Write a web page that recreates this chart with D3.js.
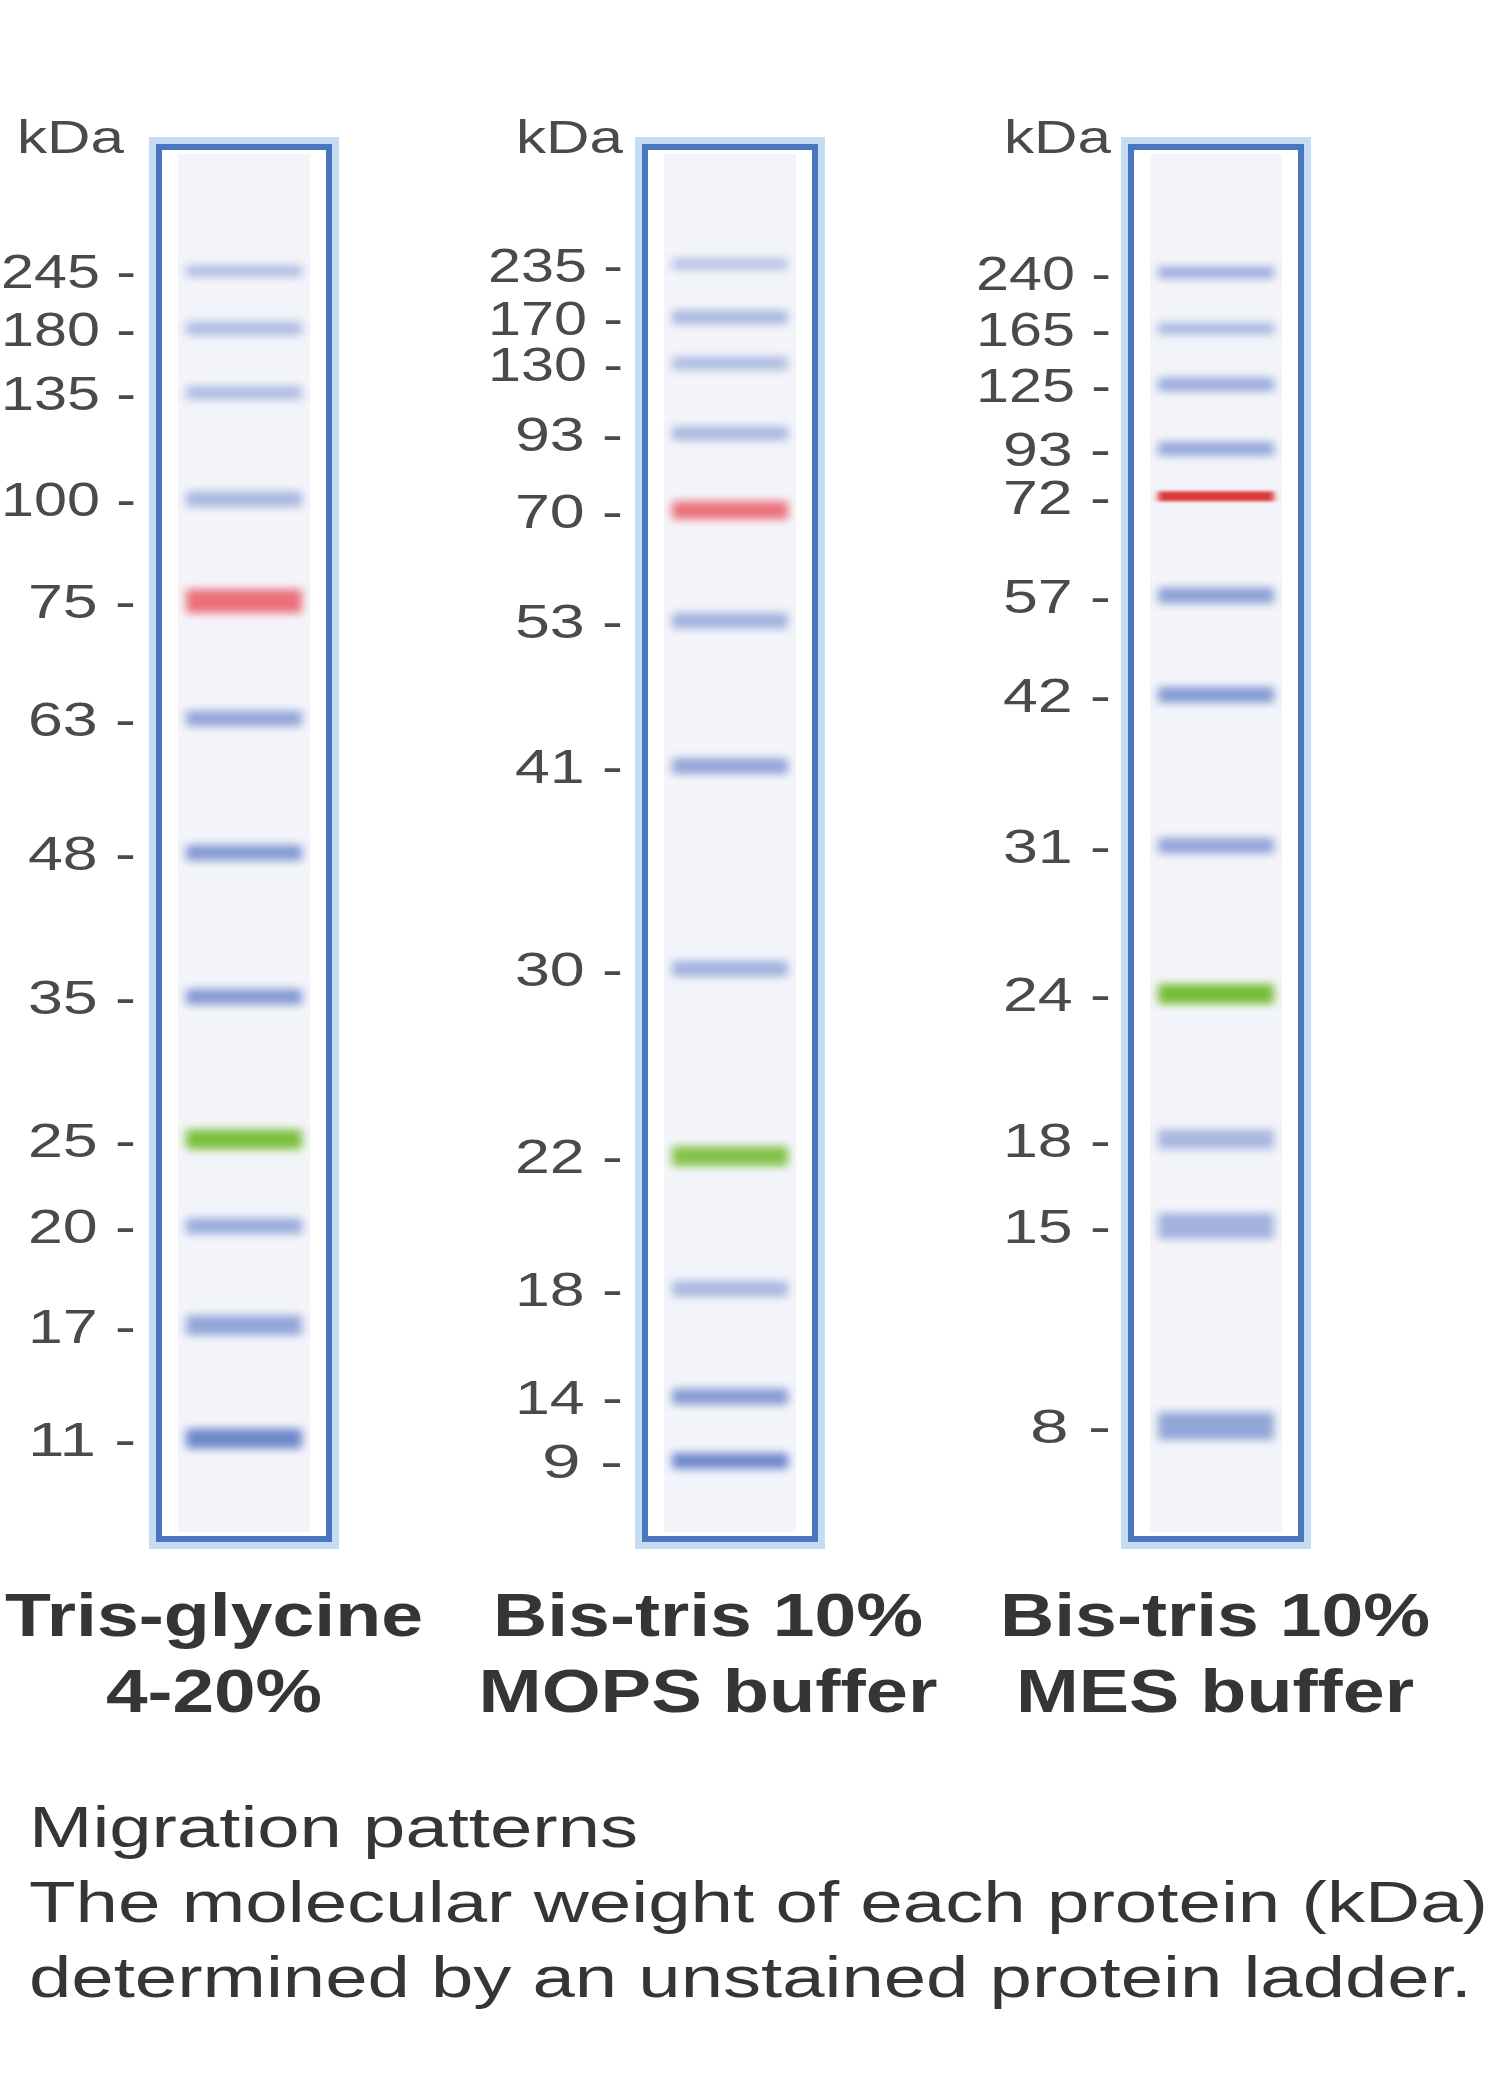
<!DOCTYPE html>
<html><head><meta charset="utf-8">
<script src="https://cdn.jsdelivr.net/npm/d3@7"></script>
<style>body{margin:0;background:#fff}</style>
</head><body>
<script>
// Data
const laneTitles = [["Tris-glycine","4-20%"],["Bis-tris 10%","MOPS buffer"],["Bis-tris 10%","MES buffer"]];
const lane1Labels = ["245","180","135","100","75","63","48","35","25","20","17","11"];
const lane1Rf = [0.091,0.132,0.178,0.254,0.327,0.411,0.507,0.610,0.712,0.774,0.845,0.926];
const lane1Colors = ["b","b","b","b","r","b","b","b","g","b","b","b"];
const lane1Strength = [0.45,0.45,0.45,0.5,0.85,0.65,0.75,0.75,0.9,0.6,0.65,0.9];
const lane1Thick = [12,14,14,16,24,16,16,16,20,16,20,20];
const lane2Labels = ["235","170","130","93","70","53","41","30","22","18","14","9"];
const lane2Rf = [0.086,0.124,0.157,0.207,0.262,0.341,0.445,0.590,0.724,0.819,0.896,0.942];
const lane2Colors = ["b","b","b","b","r","b","b","b","g","b","b","b"];
const lane2Strength = [0.4,0.5,0.45,0.5,0.85,0.55,0.65,0.55,0.85,0.5,0.75,0.9];
const lane2Thick = [12,14,14,14,18,16,16,16,20,16,16,16];
const lane3Labels = ["240","165","125","93","72","57","42","31","24","18","15","8"];
const lane3Rf = [0.092,0.132,0.172,0.218,0.252,0.323,0.394,0.502,0.608,0.712,0.774,0.917];
const lane3Colors = ["b","b","b","b","R","b","b","b","g","b","b","b"];
const lane3Strength = [0.6,0.5,0.6,0.65,0.95,0.7,0.75,0.65,0.95,0.5,0.55,0.65];
const lane3Thick = [12,12,14,14,10,16,16,16,20,20,26,28];
const footer = ["Migration patterns","The molecular weight of each protein (kDa)","determined by an unstained protein ladder."];

const lanes = [
 {labels:lane1Labels, rf:lane1Rf, col:lane1Colors, s:lane1Strength, t:lane1Thick},
 {labels:lane2Labels, rf:lane2Rf, col:lane2Colors, s:lane2Strength, t:lane2Thick},
 {labels:lane3Labels, rf:lane3Rf, col:lane3Colors, s:lane3Strength, t:lane3Thick}
];

const W=1506,H=2087;
const svg=d3.select("body").append("svg").attr("width",W).attr("height",H);
const defs=svg.append("defs");
defs.append("filter").attr("id","blur").attr("x","-20%").attr("y","-200%").attr("width","140%").attr("height","500%")
 .append("feGaussianBlur").attr("stdDeviation","5 4");
defs.append("filter").attr("id","blurS").attr("x","-20%").attr("y","-200%").attr("width","140%").attr("height","500%")
 .append("feGaussianBlur").attr("stdDeviation","3 1.5");

const laneX = d3.scalePoint().domain([0,1,2]).range([156,1128]);
const laneW = 176;
const y = d3.scaleLinear().domain([0,1]).range([144,1542]);
const colorMap={b:"#5f7cc6",r:"#ea5864",R:"#d9332f",g:"#6fba2c"};
const textCol="#4a4a4a";
const font="'Liberation Sans', Arial, Helvetica, sans-serif";

function fitText(sel,w){ sel.attr("textLength",w).attr("lengthAdjust","spacingAndGlyphs"); return sel; }

const labelEnd=[136,623,1111];
const kdaW=107;
const titleX=[214,708,1215];
const titleW=[[418,216],[430,459],[430,398]];

lanes.forEach((L,i)=>{
  const x0=laneX(i);
  const g=svg.append("g");
  g.append("rect").attr("x",x0+22).attr("y",y(0)+10).attr("width",laneW-44).attr("height",y(1)-y(0)-20)
   .attr("fill","#f4f5fa");
  g.append("rect").attr("x",x0-3).attr("y",y(0)-3).attr("width",laneW+6).attr("height",y(1)-y(0)+6)
   .attr("fill","none").attr("stroke","#c6dcf2").attr("stroke-width",8);
  g.append("rect").attr("x",x0+3).attr("y",y(0)+3).attr("width",laneW-6).attr("height",y(1)-y(0)-6)
   .attr("fill","none").attr("stroke","#4a76bf").attr("stroke-width",6);
  L.rf.forEach((r,k)=>{
    const c=L.col[k], t=L.t[k];
    g.append("rect").attr("x",x0+30).attr("width",laneW-60)
      .attr("y",y(r)-t/2).attr("height",t)
      .attr("fill",colorMap[c]).attr("opacity",L.s[k])
      .attr("filter",c==="R"?"url(#blurS)":"url(#blur)");
  });
  L.rf.forEach((r,k)=>{
    const s=L.labels[k]+" -";
    const tw = s.length*27;
    fitText(svg.append("text").attr("x",labelEnd[i]-tw).attr("y",y(r)).attr("dy","0.36em")
      .attr("font-family",font).attr("font-size",48)
      .attr("fill",textCol).text(s), tw);
  });
  fitText(svg.append("text").attr("x",labelEnd[i]-kdaW-(i===0?12:0)).attr("y",153)
    .attr("font-family",font).attr("font-size",46).attr("fill",textCol).text("kDa"),kdaW);
  laneTitles[i].forEach((t,j)=>{
    fitText(svg.append("text").attr("x",titleX[i]-titleW[i][j]/2).attr("y",1636+j*76)
      .attr("font-family",font).attr("font-weight","bold").attr("font-size",62)
      .attr("fill","#353538").text(t), titleW[i][j]);
  });
});

const footW=[609,1459,1443];
footer.forEach((t,j)=>{
  fitText(svg.append("text").attr("x",29).attr("y",1847+j*75).attr("font-family",font)
    .attr("font-size",58).attr("fill","#353538").text(t), footW[j]);
});
</script>
</body></html>
